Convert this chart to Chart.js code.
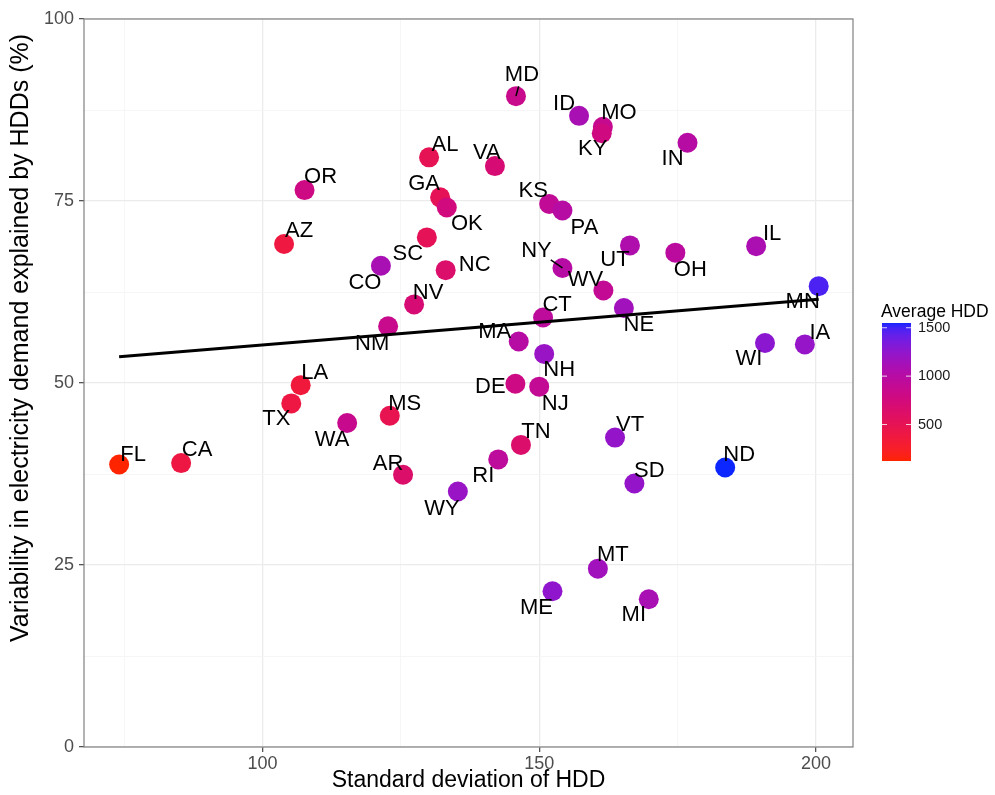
<!DOCTYPE html>
<html>
<head>
<meta charset="utf-8">
<script src="https://cdn.jsdelivr.net/npm/chart.js"></script>
<style>
  body { margin: 0; background: #fff; }
  canvas { display: block; }
</style>
</head>
<body>
<canvas id="hddChart" width="995" height="795"></canvas>
<script>
// datos
const states = ['FL','CA','LA','TX','WA','MS','AR','WY','NM','NV','OR','AZ','AL','GA','OK','SC','CO','NC',
  'MD','ID','MO','KY','IN','VA','KS','PA','NY','UT','OH','IL','MN','WV','NE','CT','MA','NH','DE','NJ',
  'TN','RI','VT','SD','ND','WI','IA','MT','ME','MI'];
const sdHdd = [74.1,85.3,106.9,105.2,115.3,123.0,125.4,135.3,122.7,127.4,107.6,103.9,130.1,132.1,133.3,129.7,121.4,133.1,
  145.8,157.2,161.5,161.3,176.8,142.0,151.8,154.2,154.2,166.4,174.6,189.2,200.5,161.6,165.3,150.7,146.3,150.9,145.7,150.0,
  146.7,142.6,163.7,167.2,183.6,190.8,198.0,160.6,152.4,169.8];
const varExplained = [38.8,39.0,49.7,47.2,44.5,45.5,37.4,35.1,57.8,60.8,76.5,69.1,81.0,75.5,74.1,70.0,66.1,65.5,
  89.4,86.7,85.2,84.3,83.0,79.8,74.6,73.7,65.8,68.9,67.9,68.8,63.3,62.7,60.3,59.0,55.7,54.0,49.9,49.5,
  41.5,39.5,42.5,36.2,38.4,55.5,55.3,24.5,21.4,20.3];
const avgHdd = [123,400,360,400,860,480,640,1200,850,700,800,380,500,520,760,520,1100,650,
  850,1100,880,780,1000,700,920,1000,1000,1050,970,1080,1480,900,1150,950,1000,1200,800,900,
  650,950,1230,1230,1549,1270,1220,1150,1250,1100];
const fitX = [74.1, 200.5];
const fitY = [53.6, 61.5];
const xTicks = [100, 150, 200];
const yTicks = [0, 25, 50, 75, 100];
const legendTicks = [500, 1000, 1500];
const hddMin = 123, hddMax = 1549;

// desplazamiento de cada etiqueta (px) respecto al punto
const labelOffsets = [[14,-11],[16,-14],[14,-13],[-15,15],[-15,16],[15,-13],[-15,-12],[-16,16],[-16,17],[14,-12],
  [16,-14],[15,-14],[16,-13],[-16,-14],[20,15],[-19,16],[-16,16],[29,-6],
  [6,-22],[-15,-13],[16,-15],[-9,15],[-15,15],[-8,-14],[-16,-14],[22,16],[-26,-18],[-15,14],[15,16],[16,-13],
  [-16,15],[-18,-12],[15,16],[14,-14],[-24,-11],[15,15],[-25,2],[16,16],
  [15,-14],[-15,15],[15,-14],[15,-14],[14,-14],[-16,15],[15,-12],[15,-15],[-16,16],[-15,15]];
const connectors = ['MD', 'NY'];

// rampa de color en CIELAB (rojo -> azul)
function toLin(c) { c /= 255; return c <= 0.04045 ? c / 12.92 : Math.pow((c + 0.055) / 1.055, 2.4); }
function fromLin(c) { c = c <= 0.0031308 ? 12.92 * c : 1.055 * Math.pow(c, 1 / 2.4) - 0.055; return Math.round(Math.min(1, Math.max(0, c)) * 255); }
const WX = 0.95047, WY = 1, WZ = 1.08883;
function rgbToLab(rgb) {
  const r = toLin(rgb[0]), g = toLin(rgb[1]), b = toLin(rgb[2]);
  const X = (0.4124 * r + 0.3576 * g + 0.1805 * b) / WX;
  const Y = (0.2126 * r + 0.7152 * g + 0.0722 * b) / WY;
  const Z = (0.0193 * r + 0.1192 * g + 0.9505 * b) / WZ;
  const f = t => t > 0.008856 ? Math.cbrt(t) : 7.787 * t + 16 / 116;
  const fx = f(X), fy = f(Y), fz = f(Z);
  return [116 * fy - 16, 500 * (fx - fy), 200 * (fy - fz)];
}
function labToRgb(lab) {
  const fy = (lab[0] + 16) / 116, fx = fy + lab[1] / 500, fz = fy - lab[2] / 200;
  const inv = t => t > 0.206893 ? t * t * t : (t - 16 / 116) / 7.787;
  const X = inv(fx) * WX, Y = inv(fy) * WY, Z = inv(fz) * WZ;
  const r = 3.2406 * X - 1.5372 * Y - 0.4986 * Z;
  const g = -0.9689 * X + 1.8758 * Y + 0.0415 * Z;
  const b = 0.0557 * X - 0.2040 * Y + 1.0570 * Z;
  return [fromLin(r), fromLin(g), fromLin(b)];
}
const labLow = rgbToLab([255, 36, 0]);
const labHigh = rgbToLab([12, 38, 255]);
function hddColor(v) {
  const t = Math.min(1, Math.max(0, (v - hddMin) / (hddMax - hddMin)));
  const c = labToRgb([0, 1, 2].map(i => labLow[i] + (labHigh[i] - labLow[i]) * t));
  return `rgb(${c[0]},${c[1]},${c[2]})`;
}

const FONT = "'Liberation Sans', Arial, sans-serif";

const labelPlugin = {
  id: 'stateLabels',
  afterDatasetsDraw(chart) {
    const ctx = chart.ctx;
    const meta = chart.getDatasetMeta(1);
    ctx.save();
    ctx.font = `22px ${FONT}`;
    ctx.fillStyle = '#000';
    ctx.textAlign = 'center';
    ctx.textBaseline = 'middle';
    meta.data.forEach((pt, i) => {
      const lx = pt.x + labelOffsets[i][0];
      const ly = pt.y + labelOffsets[i][1];
      if (connectors.includes(states[i])) {
        ctx.strokeStyle = '#000';
        ctx.lineWidth = 1.5;
        ctx.beginPath();
        ctx.moveTo(pt.x, pt.y);
        ctx.lineTo(pt.x + (lx - pt.x) * 0.45, pt.y + (ly - pt.y) * 0.45);
        ctx.stroke();
      }
      ctx.fillText(states[i], lx, ly + 1);
    });
    ctx.restore();
  }
};

const framePlugin = {
  id: 'frameAndLegend',
  afterDraw(chart) {
    const ctx = chart.ctx;
    const a = chart.chartArea;
    ctx.save();
    ctx.strokeStyle = '#808080';
    ctx.lineWidth = 1.2;
    ctx.strokeRect(a.left, a.top, a.right - a.left, a.bottom - a.top);

    // titulo eje y
    ctx.save();
    ctx.translate(21, 338);
    ctx.rotate(-Math.PI / 2);
    ctx.font = `25px ${FONT}`;
    ctx.fillStyle = '#000';
    ctx.textAlign = 'center';
    ctx.textBaseline = 'middle';
    ctx.fillText('Variability in electricity demand explained by HDDs (%)', 0, 0);
    ctx.restore();

    // leyenda de color
    const bx = 882, bw = 29, top = 323, bottom = 461;
    ctx.font = `17.5px ${FONT}`;
    ctx.fillStyle = '#000';
    ctx.textAlign = 'left';
    ctx.textBaseline = 'middle';
    ctx.fillText('Average HDD', 881, 312);
    for (let y = top; y < bottom; y++) {
      const v = hddMax - (y + 0.5 - top) / (bottom - top) * (hddMax - hddMin);
      ctx.fillStyle = hddColor(v);
      ctx.fillRect(bx, y, bw, 1);
    }
    ctx.font = `14.5px ${FONT}`;
    legendTicks.forEach(t => {
      const y = bottom - (t - hddMin) / (hddMax - hddMin) * (bottom - top);
      ctx.strokeStyle = 'rgba(255,255,255,0.8)';
      ctx.lineWidth = 1;
      ctx.beginPath();
      ctx.moveTo(bx, y); ctx.lineTo(bx + 5, y);
      ctx.moveTo(bx + bw - 5, y); ctx.lineTo(bx + bw, y);
      ctx.stroke();
      ctx.fillStyle = '#1a1a1a';
      ctx.fillText(String(t), 918, y);
    });
    ctx.restore();
  }
};

const isMajor = (v, list) => list.some(t => Math.abs(t - v) < 1e-6);

new Chart(document.getElementById('hddChart'), {
  type: 'scatter',
  data: {
    datasets: [
      {
        type: 'line',
        data: fitX.map((x, i) => ({ x: x, y: fitY[i] })),
        borderColor: '#000',
        borderWidth: 3,
        pointRadius: 0,
        order: 0
      },
      {
        data: sdHdd.map((x, i) => ({ x: x, y: varExplained[i] })),
        backgroundColor: avgHdd.map(hddColor),
        pointRadius: 10,
        pointBorderWidth: 0,
        order: 1
      }
    ]
  },
  options: {
    responsive: false,
    devicePixelRatio: 1,
    animation: false,
    layout: { padding: { left: 0, right: 142, top: 19, bottom: 0 } },
    plugins: { legend: { display: false }, tooltip: { enabled: false } },
    scales: {
      x: {
        type: 'linear',
        min: 67.75,
        max: 206.7,
        afterFit: s => { s.height = 48; },
        border: { display: false },
        grid: {
          color: c => isMajor(c.tick.value, xTicks) ? '#ebebeb' : '#f4f4f4',
          lineWidth: c => isMajor(c.tick.value, xTicks) ? 1.3 : 0.8,
          tickColor: c => isMajor(c.tick.value, xTicks) ? '#555' : 'rgba(0,0,0,0)',
          tickLength: 5
        },
        ticks: {
          stepSize: 25,
          includeBounds: false,
          autoSkip: false,
          maxRotation: 0,
          padding: 1,
          color: '#4d4d4d',
          font: { family: FONT, size: 18 },
          callback: v => isMajor(v, xTicks) ? String(v) : ''
        },
        title: {
          display: true,
          text: 'Standard deviation of HDD',
          color: '#000',
          font: { family: FONT, size: 23 },
          padding: { top: 0, bottom: 1 }
        }
      },
      y: {
        type: 'linear',
        min: 0,
        max: 100,
        afterFit: s => { s.width = 84; },
        border: { display: false },
        grid: {
          color: c => isMajor(c.tick.value, yTicks) ? '#ebebeb' : '#f4f4f4',
          lineWidth: c => isMajor(c.tick.value, yTicks) ? 1.3 : 0.8,
          tickColor: c => isMajor(c.tick.value, yTicks) ? '#555' : 'rgba(0,0,0,0)',
          tickLength: 5
        },
        ticks: {
          stepSize: 12.5,
          includeBounds: false,
          autoSkip: false,
          padding: 5,
          color: '#4d4d4d',
          font: { family: FONT, size: 18 },
          callback: v => isMajor(v, yTicks) ? String(v) : ''
        },
        title: { display: false }
      }
    }
  },
  plugins: [labelPlugin, framePlugin]
});
</script>
</body>
</html>
